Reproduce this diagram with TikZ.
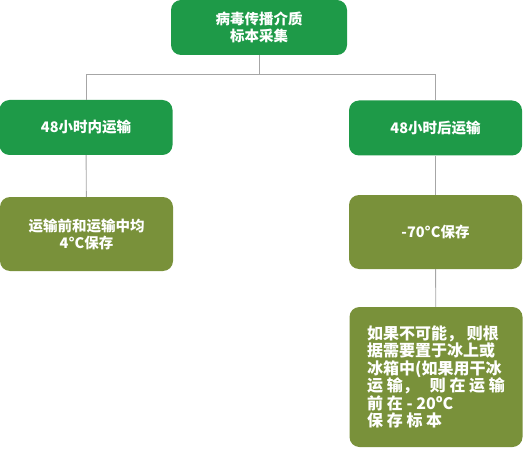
\documentclass[tikz,border=0pt]{standalone}
\usepackage{fontspec}
\setmainfont{Noto Sans CJK SC}
\definecolor{boxgreen}{RGB}{30,154,72}
\definecolor{boxolive}{RGB}{121,145,58}
\definecolor{linegray}{RGB}{166,166,166}
\begin{document}
\begin{tikzpicture}[x=1pt, y=-1pt,
  box/.style={rectangle, rounded corners=10pt, inner sep=0pt, text=white, align=center,
    font=\fontsize{14.5}{17}\selectfont\bfseries, minimum width=173pt},
  grbox/.style={box, fill=boxgreen, minimum height=55pt},
  olbox/.style={box, fill=boxolive, minimum height=74pt},
  link/.style={draw=linegray, line width=0.9pt}]
  \useasboundingbox (0,0) rectangle (524,449);
  \node[grbox, minimum width=176pt] (top) at (259,27.5) {病毒传播介质\\标本采集};
  \node[grbox] (near) at (86,127.5) {48小时内运输};
  \node[grbox] (far) at (435.5,128) {48小时后运输};
  \node[olbox] (cool) at (86.5,234) {运输前和运输中均\\4°C保存};
  \node[olbox] (deep) at (435.5,232) {-70°C保存};
  \node[box, fill=boxolive, minimum height=140pt, align=left,
    font=\fontsize{16}{17.5}\selectfont\bfseries] (else) at (436,377)
    {如果不可能，\ 则根\\据需要置于冰上或\\冰箱中(如果用干冰\\运\ 输，\ \ \ 则\ 在\ 运\ 输\\前\ 在\ -\ 20ºC\\保\ 存\ 标\ 本};
  \coordinate (split) at (259,74);
  \draw[link] (top) -- (split);
  \draw[link] (split) -| (near);
  \draw[link] (split) -| (far);
  \draw[link] (near) -- (cool);
  \draw[link] (far) -- (deep);
  \draw[link] (deep) -- (else);
\end{tikzpicture}
\end{document}
